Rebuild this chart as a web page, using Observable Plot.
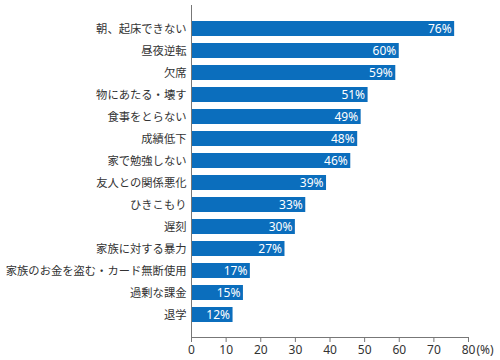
<!DOCTYPE html>
<html><head><meta charset="utf-8">
<script src="https://cdn.jsdelivr.net/npm/d3@7"></script>
<script src="https://cdn.jsdelivr.net/npm/@observablehq/plot@0.6"></script>
<style>body{margin:0;background:#fff}</style>
</head><body><div id="chart"></div>
<script>
const categories = ["朝、起床できない","昼夜逆転","欠席","物にあたる・壊す","食事をとらない","成績低下","家で勉強しない","友人との関係悪化","ひきこもり","遅刻","家族に対する暴力","家族のお金を盗む・カード無断使用","過剰な課金","退学"];
const values = [76,60,59,51,49,48,46,39,33,30,27,17,15,12];
const xTicks = [0,10,20,30,40,50,60,70,80];
const data = categories.map((c,i)=>({label:c, value:values[i]}));
const blue = "#0b6ebd";
const chart = Plot.plot({
  width: 500, height: 360,
  marginLeft: 191, marginRight: 32, marginTop: 5, marginBottom: 23,
  style: {fontFamily: "'Noto Sans CJK JP', 'Noto Sans', sans-serif", background: "#fff"},
  x: {domain: [0,80]},
  y: {domain: categories, padding: 0.3, insetTop: 4.2, insetBottom: 3.2},
  marks: [
    Plot.barX(data, {x: "value", y: "label", fill: blue}),
    Plot.text(data, {x: "value", y: "label", text: d => d.value + "%", textAnchor: "end", dx: -3, fill: "white", fontSize: 12, fontFamily: "'Noto Sans', sans-serif"}),
    Plot.ruleX([0], {stroke: "#777", strokeWidth: 1}),
    Plot.frame({anchor: "bottom", stroke: "#777"}),
    Plot.axisY({tickSize: 0, tickPadding: 5, fontSize: 11.3, fill: "#333", label: null}),
    Plot.axisX({ticks: xTicks, tickSize: 5, tickPadding: 3, fontSize: 12, fill: "#333", stroke: "#777", label: null, fontFamily: "'Noto Sans', sans-serif"}),
    Plot.axisX([80], {tickSize: 0, tickPadding: 8, tickFormat: () => "(%)", textAnchor: "start", dx: 8, fontSize: 12, fill: "#333", label: null, fontFamily: "'Noto Sans', sans-serif"})
  ]
});
document.getElementById("chart").append(chart);
</script></body></html>
